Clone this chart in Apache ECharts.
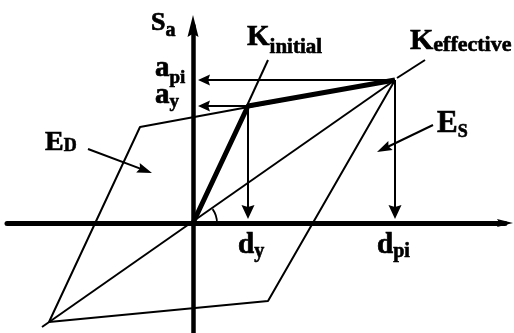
<!DOCTYPE html>
<html>
<head>
<meta charset="utf-8">
<script src="https://cdn.jsdelivr.net/npm/echarts@6/dist/echarts.min.js"></script>
<style>
html,body{margin:0;padding:0;background:#fff;}
#chart{width:514px;height:333px;}
</style>
</head>
<body>
<div id="chart"></div>
<script>
// diagram values, plot units, origin where the two axes cross
const yieldPoint = [55, 117];     // d_y, a_y
const peakPoint = [202, 143];     // d_pi, a_pi
const loopPoints = [[202, 143], [-53, 96], [-144, -99], [75, -78], [202, 143]];
const secantPoints = [[-151, -104], [202, 143]];
const kInitialLeader = [[75, 163], [52, 113]];
const kEffectiveLeader = [[204, 145], [232, 163]];
const edPointer = [[-105, 74], [-41, 50]];
const esPointer = [[240, 98], [184, 71]];
const labelMain = ['S', 'K', 'K', 'E', 'E', 'a', 'a', 'd', 'd'];
const labelSub = ['a', 'initial', 'effective', 'D', 'S', 'pi', 'y', 'y', 'pi'];

// left x, cap centre y, main size, sub size, sub baseline drop (px)
const labelLayout = [
  [151, 23, 26, 20, 6],
  [247, 38, 29, 21, 7],
  [410, 41, 30, 22, 2],
  [45, 143, 28, 18, 0],
  [437, 124, 31, 18, 4],
  [155, 68.5, 29, 19, 6],
  [155, 95.5, 29, 19, 3],
  [238, 245.5, 29, 20, 3],
  [377, 245.5, 29, 20, 3]
];

const head = 'path://M5,0 L10,20 L5,17 L0,20 Z';
const font = '"Liberation Serif", "Times New Roman", serif';

// lines series puts the arrow head centred on the end point, so pull it back half a head
function arrow(from, tip, len) {
  const dx = tip[0] - from[0], dy = tip[1] - from[1];
  const d = Math.hypot(dx, dy);
  return { coords: [from, [tip[0] - dx / d * len / 2, tip[1] - dy / d * len / 2]] };
}

const chart = echarts.init(document.getElementById('chart'));

const labels = labelMain.map(function (m, i) {
  const L = labelLayout[i];
  const shift = L[4] + 0.34 * (L[2] - L[3]);
  return {
    type: 'text',
    x: L[0],
    y: L[1],
    z: 100,
    style: {
      text: '{m|' + m + '}{s|' + labelSub[i] + '}',
      fill: '#000',
      align: 'left',
      verticalAlign: 'middle',
      rich: {
        m: { font: 'bold ' + L[2] + 'px ' + font, fill: '#000', stroke: '#000', lineWidth: 0.7 },
        s: { font: 'bold ' + L[3] + 'px ' + font, fill: '#000', stroke: '#000', lineWidth: 0.6,
          padding: [2 * shift, 0, 0, 0] }
      }
    }
  };
});

chart.setOption({
  animation: false,
  backgroundColor: '#fff',
  grid: { left: 7, right: 9, top: 26, bottom: 0 },
  xAxis: {
    type: 'value', min: -186, max: 312,
    axisLine: { onZero: true, symbol: ['none', head], symbolSize: [21, 16],
      lineStyle: { color: '#000', width: 5, cap: 'round' } },
    axisTick: { show: false }, axisLabel: { show: false }, splitLine: { show: false }
  },
  yAxis: {
    type: 'value', min: -110, max: 197,
    axisLine: { onZero: true, symbol: ['none', head], symbolSize: [21, 22],
      lineStyle: { color: '#000', width: 4.5 } },
    axisTick: { show: false }, axisLabel: { show: false }, splitLine: { show: false }
  },
  series: [
    {
      name: 'loop', type: 'line', data: loopPoints, symbol: 'none',
      lineStyle: { color: '#000', width: 2 }
    },
    {
      name: 'secant', type: 'line', data: secantPoints, symbol: 'none',
      lineStyle: { color: '#000', width: 2 }
    },
    {
      name: 'capacity', type: 'line', data: [[0, 0], yieldPoint, peakPoint], symbol: 'none',
      lineStyle: { color: '#000', width: 5 }, z: 5
    },
    {
      name: 'leaders', type: 'lines', coordinateSystem: 'cartesian2d', symbol: 'none',
      lineStyle: { color: '#000', width: 2, opacity: 1 },
      data: [{ coords: kInitialLeader }, { coords: kEffectiveLeader }]
    },
    {
      name: 'a arrows', type: 'lines', coordinateSystem: 'cartesian2d',
      symbol: ['none', head], symbolSize: [[1, 1], [11, 12]],
      lineStyle: { color: '#000', width: 2, opacity: 1 },
      data: [arrow(peakPoint, [5, peakPoint[1]], 12), arrow(yieldPoint, [5, yieldPoint[1]], 12)]
    },
    {
      name: 'd arrows', type: 'lines', coordinateSystem: 'cartesian2d',
      symbol: ['none', head], symbolSize: [[1, 1], [13, 14]],
      lineStyle: { color: '#000', width: 2, opacity: 1 },
      data: [arrow(yieldPoint, [yieldPoint[0], 4], 14), arrow(peakPoint, [peakPoint[0], 4], 14)]
    },
    {
      name: 'pointers', type: 'lines', coordinateSystem: 'cartesian2d',
      symbol: ['none', head], symbolSize: [[1, 1], [10, 15]],
      lineStyle: { color: '#000', width: 2, opacity: 1 },
      data: [arrow(edPointer[0], edPointer[1], 15), arrow(esPointer[0], esPointer[1], 15)]
    },
    {
      name: 'angle', type: 'custom', data: [[0, 0]],
      renderItem: function (params, api) {
        const o = api.coord([0, 0]);
        const p = api.coord(peakPoint);
        return {
          type: 'arc',
          shape: { cx: o[0], cy: o[1], r: 24, startAngle: Math.atan2(p[1] - o[1], p[0] - o[0]), endAngle: 0, clockwise: true },
          style: { stroke: '#000', fill: null, lineWidth: 1.8 }
        };
      }
    }
  ],
  graphic: labels
});
</script>
</body>
</html>
